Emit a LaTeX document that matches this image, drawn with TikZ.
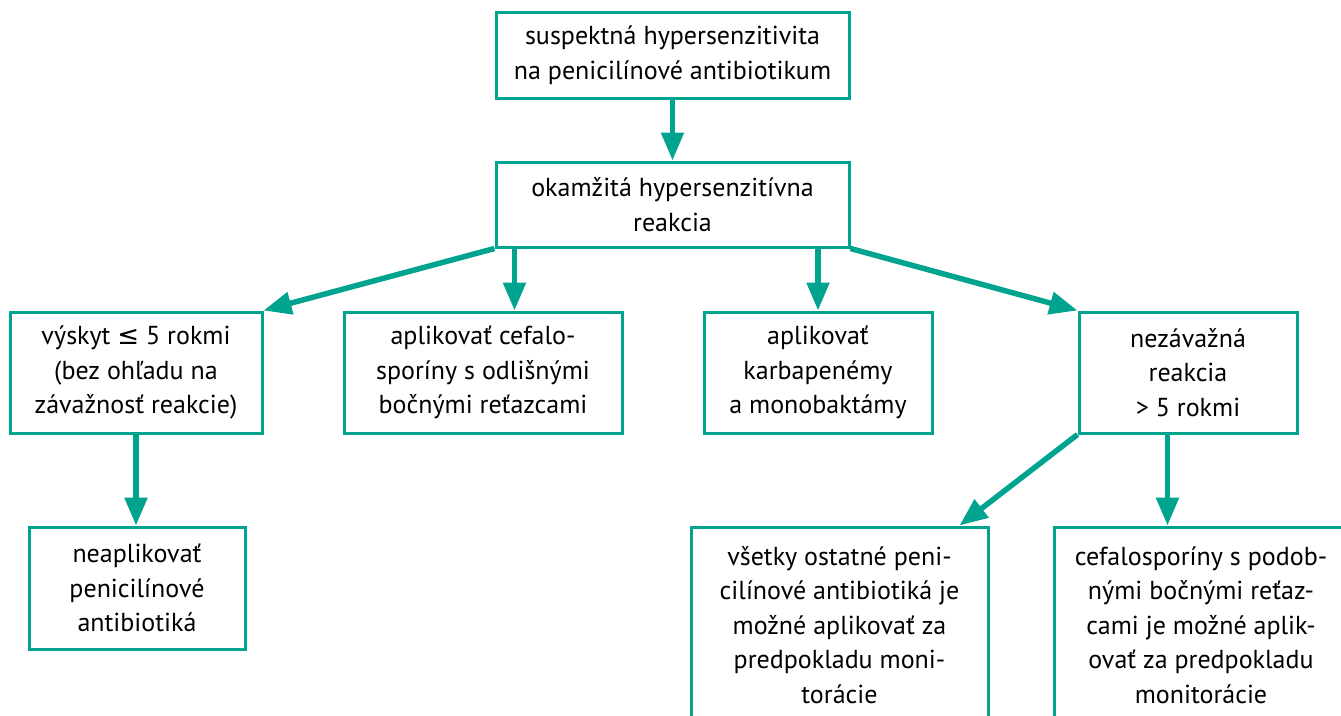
\documentclass[tikz,border=0pt]{standalone}
\usepackage{fontspec}
\setmainfont{PT Sans}
\newfontfamily\symf{DejaVu Sans}
\usetikzlibrary{arrows.meta,calc}
\definecolor{mint}{HTML}{00A38E}
\begin{document}
\begin{tikzpicture}[x=1pt,y=-1pt,
  box/.style={draw=mint,line width=3pt,align=center,inner sep=0pt,
    font=\fontsize{26}{34.5}\selectfont},
  arr/.style={draw=mint,line width=5.5pt,-{Triangle[length=28pt,width=22pt]}}]
\clip (0,0) rectangle (1341,715);
\node[box,minimum width=353pt,minimum height=86pt] (n1) at (672.5,55)
  {suspektná hypersenzitivita\\na penicilínové antibiotikum};
\node[box,minimum width=353pt,minimum height=85pt] (n2) at (672.5,204.5)
  {okamžitá hypersenzitívna\\reakcia};
\node[box,minimum width=252pt,minimum height=121pt] (a) at (136,372.5)
  {výskyt {\symf ≤} 5 rokmi\\(bez ohľadu na\\závažnosť reakcie)};
\node[box,minimum width=278pt,minimum height=121pt] (b) at (483,372.5)
  {aplikovať cefalo-\\sporíny s odlišnými\\bočnými reťazcami};
\node[box,minimum width=228pt,minimum height=121pt] (c) at (818,372.5)
  {aplikovať\\karbapenémy\\a monobaktámy};
\node[box,minimum width=218pt,minimum height=121pt] (d) at (1188,372.5)
  {nezávažná\\reakcia\\> 5 rokmi};
\node[box,minimum width=216pt,minimum height=122pt] (e) at (137,588)
  {neaplikovať\\penicilínové\\antibiotiká};
\node[box,minimum width=297pt,minimum height=196pt] (f) at (839.5,625)
  {všetky ostatné peni-\\cilínové antibiotiká je\\možné aplikovať za\\predpokladu moni-\\torácie};
\node[box,minimum width=294pt,minimum height=196pt] (g) at (1201,625)
  {cefalosporíny s podob-\\nými bočnými reťaz-\\cami je možné aplik-\\ovať za predpokladu\\monitorácie};
\draw[arr] (n1.south) -- (n2.north);
\draw[arr] (n2.south west) -- (a.north east);
\draw[arr] ([xshift=20pt]n2.south west) -- ([xshift=20pt]n2.south west |- b.north);
\draw[arr] (c.north |- n2.south) -- (c.north);
\draw[arr] (n2.south east) -- (d.north west);
\draw[arr] (a.south) -- (a.south |- e.north);
\draw[arr] (d.south west) -- ($(f.north west)!0.9!(f.north east)$);
\draw[arr] ([xshift=90pt]d.south west) -- ([xshift=90pt]d.south west |- g.north);
\end{tikzpicture}
\end{document}
